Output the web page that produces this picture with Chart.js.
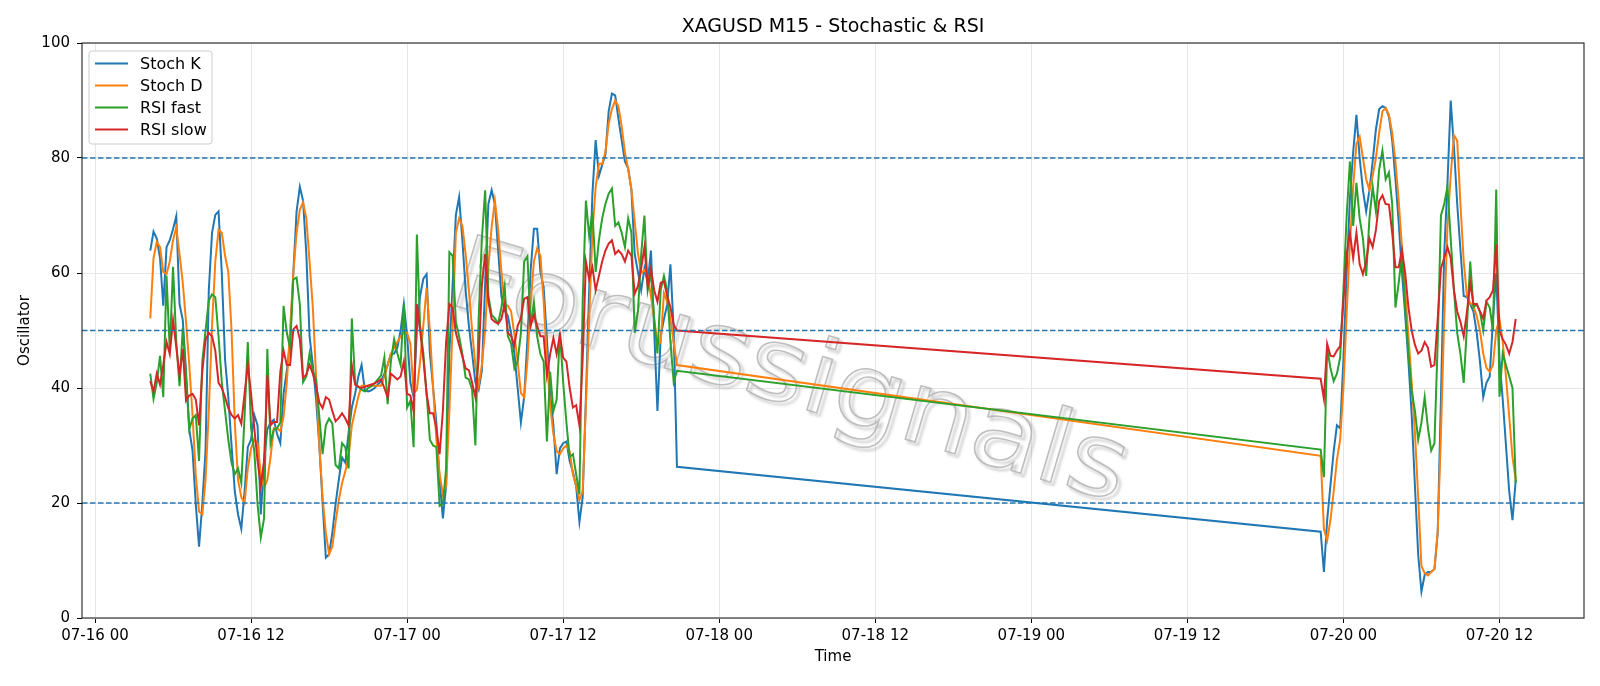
<!DOCTYPE html>
<html>
<head>
<meta charset="utf-8">
<script src="https://cdn.jsdelivr.net/npm/chart.js@4.4.1/dist/chart.umd.min.js"></script>
<style>
  html, body { margin: 0; padding: 0; background: #fff; }
  #wrap { width: 1600px; height: 686px; }
</style>
</head>
<body>
<div id="wrap"><canvas id="osc" width="1600" height="686"></canvas></div>
<script>
// XAGUSD M15 - Stochastic & RSI (15 min bars, hours counted from 07-16 00:00)

const seg1Start = 4.25;   // 07-16 04:15
const seg1Count = 163;    // up to 07-17 20:45
const seg2Start = 94.25;  // 07-19 22:15
const seg2Count = 61;     // up to 07-20 13:15
const step = 0.25;

const tickHours = [0, 12, 24, 36, 48, 60, 72, 84, 96, 108];
const tickLabels = ['07-16 00', '07-16 12', '07-17 00', '07-17 12', '07-18 00',
                    '07-18 12', '07-19 00', '07-19 12', '07-20 00', '07-20 12'];
const yTicks = [0, 20, 40, 60, 80, 100];
const levels = [20, 50, 80];

const stochK = [
  63.9, 67.2, 66.0, 62.6, 54.3, 64.5, 65.7, 67.6, 69.9, 54.6,
  51.8, 42.8, 32.8, 29.1, 19.8, 12.4, 19.8, 29.1, 57.0, 67.0,
  70.1, 70.7, 60.0, 45.0, 38.4, 30.0, 22.0, 18.0, 15.5, 22.0,
  29.7, 31.0, 35.3, 33.5, 18.0, 27.3, 32.8, 34.0, 34.5, 32.0,
  30.4, 39.0, 43.0, 48.0, 60.0, 70.7, 75.0, 72.6, 63.3, 49.0,
  44.0, 38.0, 30.0, 20.0, 10.5, 11.1, 14.8, 19.8, 24.1, 27.9,
  27.0, 32.2, 36.6, 39.0, 42.0, 44.0, 39.6, 39.4, 39.6, 40.0,
  40.6, 41.2, 42.5, 44.0, 45.9, 46.0, 47.0, 50.0, 54.6, 49.0,
  41.0, 38.4, 50.0, 56.0, 59.0, 59.8, 46.0, 40.0, 34.0, 24.0,
  17.3, 23.0, 46.0, 58.0, 70.1, 73.2, 65.7, 57.0, 50.8, 46.0,
  41.0, 39.7, 43.0, 58.0, 72.0, 74.4, 72.0, 64.0, 56.0, 53.5,
  52.5, 49.5, 46.0, 40.0, 34.0, 38.4, 48.4, 60.5, 67.7, 67.7,
  60.2, 57.5, 48.5, 39.0, 33.5, 25.0, 29.5, 30.4, 30.7, 27.3,
  25.4, 22.9, 16.7, 21.0, 38.4, 57.0, 73.8, 83.1, 76.9, 78.8,
  80.6, 88.1, 91.2, 90.9, 86.8, 83.1, 79.4, 78.2, 74.4, 63.3,
  60.2, 57.0, 60.8, 58.3, 63.9, 50.0, 36.0, 49.0, 52.0, 54.5,
  61.5, 50.0, 26.3,
  // after the weekend
  15.0, 8.0, 17.0, 23.0, 29.0, 33.5, 33.0, 45.0, 60.0, 73.0,
  81.0, 87.5, 80.0, 74.4, 70.7, 74.4, 79.4, 85.0, 88.5, 89.0,
  88.7, 87.2, 83.1, 76.3, 68.8, 60.2, 52.7, 44.6, 35.3, 22.9,
  11.0, 4.6, 7.5, 8.0, 8.0, 8.5, 14.8, 38.4, 63.3, 75.7,
  90.0, 81.9, 72.0, 64.0, 56.0, 55.8, 54.6, 53.3, 49.6, 44.6,
  38.4, 40.9, 42.0, 52.0, 60.0, 45.0, 38.0, 30.0, 22.0, 17.0,
  24.0
];

const stochD = [
  52.1, 62.6, 65.4, 64.5, 60.2, 59.8, 62.0, 65.7, 67.9, 63.3,
  58.3, 51.5, 44.0, 35.3, 24.8, 18.5, 18.0, 24.0, 36.0, 50.8,
  62.0, 67.5, 67.0, 63.0, 60.2, 50.0, 34.0, 24.0, 21.0, 20.0,
  26.0, 29.5, 31.0, 30.4, 25.0, 22.6, 24.0, 28.0, 33.0, 33.0,
  32.5, 35.0, 41.0, 50.0, 60.0, 67.0, 71.0, 72.3, 69.5, 62.0,
  54.0, 42.0, 30.0, 21.0, 14.8, 11.1, 12.4, 16.7, 20.5, 23.5,
  25.5, 28.0, 33.5, 36.0, 38.5, 40.4, 40.4, 40.4, 40.4, 40.4,
  40.4, 40.4, 42.0, 44.0, 45.9, 47.0, 48.0, 49.0, 49.6, 49.6,
  47.7, 39.1, 39.7, 44.6, 51.0, 57.4, 50.0, 40.0, 31.0, 25.0,
  21.5, 23.0, 36.0, 50.8, 67.0, 69.5, 68.2, 63.3, 57.0, 50.0,
  44.0, 40.5, 44.0, 50.0, 61.0, 68.0, 72.6, 67.6, 60.2, 54.6,
  54.3, 53.3, 49.3, 44.6, 39.1, 38.4, 44.6, 54.6, 62.0, 64.3,
  63.0, 55.0, 45.0, 37.0, 32.0, 29.0, 28.5, 29.5, 30.0, 29.0,
  25.0, 23.0, 20.5, 22.0, 37.0, 52.0, 67.0, 75.0, 79.0, 79.0,
  81.0, 86.0, 88.5, 90.0, 89.0, 85.5, 81.0, 78.0, 74.5, 69.0,
  63.5, 60.0, 60.5, 59.5, 56.0, 52.0, 47.5, 48.0, 56.5, 55.0,
  52.0, 48.0, 44.0,
  // after the weekend
  28.2, 15.5, 13.5, 17.0, 22.0, 27.5, 31.0, 40.0, 53.0, 65.0,
  75.0, 82.5, 83.7, 80.0, 76.3, 74.4, 76.9, 80.0, 84.4, 88.1,
  88.7, 87.5, 84.4, 79.4, 72.6, 64.5, 57.0, 49.0, 40.9, 32.2,
  21.0, 9.0, 7.8, 7.4, 8.0, 8.5, 15.0, 32.0, 52.0, 68.0,
  77.0, 84.0, 83.0, 72.0, 62.0, 56.0, 54.8, 54.2, 52.5, 50.0,
  46.0, 43.5, 42.8, 44.0, 50.0, 52.0, 48.0, 42.0, 35.0, 28.0,
  24.0
];

const rsiFast = [
  42.5, 38.1, 40.9, 45.6, 38.4, 59.5, 46.5, 61.1, 48.0, 40.3,
  50.5, 42.0, 32.8, 34.7, 35.3, 27.3, 44.6, 50.0, 55.2, 56.3,
  55.8, 49.0, 41.0, 36.0, 31.0, 27.0, 25.0, 26.0, 23.5, 35.0,
  48.0, 33.0, 29.0, 19.8, 14.0, 17.3, 46.8, 30.4, 32.8, 33.0,
  34.0, 54.3, 49.6, 47.0, 58.9, 59.2, 54.6, 41.0, 42.0, 46.0,
  43.0, 41.5, 35.0, 28.5, 33.5, 34.7, 33.8, 26.6, 26.0, 30.4,
  29.7, 26.0, 52.1, 40.9, 40.2, 39.7, 39.4, 40.0, 40.3, 40.8,
  41.5, 42.2, 45.3, 37.2, 44.6, 48.5, 46.0, 44.0, 54.6, 36.6,
  37.8, 29.7, 66.7, 50.8, 46.0, 39.0, 31.0, 30.0, 29.7, 19.5,
  19.8, 26.0, 63.6, 63.0, 51.5, 49.0, 45.9, 41.8, 41.5, 39.7,
  30.0, 52.0, 66.0, 74.4, 56.0, 52.7, 52.1, 51.2, 54.0, 57.7,
  49.0, 47.7, 43.4, 44.6, 49.6, 62.0, 62.9, 50.8, 54.9, 49.0,
  45.9, 44.6, 30.7, 42.8, 36.0, 38.0, 49.6, 41.0, 34.0, 28.0,
  28.5, 25.0, 21.5, 55.0, 72.6, 66.4, 70.7, 60.2, 65.7, 69.5,
  72.0, 73.8, 74.7, 68.2, 68.8, 67.0, 64.5, 69.5, 67.0, 49.6,
  53.3, 63.3, 70.0, 57.0, 60.0, 52.0, 46.0, 57.0, 59.5, 57.0,
  48.0, 41.0, 43.0,
  // after the weekend
  29.3, 24.5, 47.0, 43.5, 41.2, 42.5, 45.3, 57.0, 70.0, 79.4,
  68.2, 75.7, 69.5, 66.0, 59.5, 69.5, 75.0, 70.7, 78.0, 81.3,
  76.3, 77.5, 72.0, 54.0, 58.3, 63.3, 54.0, 46.0, 39.5, 36.0,
  31.0, 34.0, 38.4, 33.0, 29.1, 30.4, 48.0, 70.0, 72.0, 75.0,
  66.0, 57.0, 49.6, 45.9, 40.9, 50.8, 62.0, 54.0, 54.6, 53.3,
  50.0, 55.0, 54.0, 50.0, 74.5, 38.5, 46.0, 44.0, 42.0, 40.0,
  23.5
];

const rsiSlow = [
  41.2, 39.4, 42.5, 40.6, 44.0, 48.0, 45.9, 51.8, 47.1, 42.2,
  46.8, 37.8, 38.7, 39.0, 38.0, 33.5, 42.8, 48.4, 49.6, 49.0,
  46.5, 40.9, 40.0, 38.4, 36.5, 35.3, 34.7, 35.3, 33.8, 39.0,
  44.0, 39.0, 33.0, 27.3, 23.0, 27.3, 42.2, 33.5, 34.1, 34.1,
  42.8, 46.5, 44.0, 44.0, 50.2, 50.8, 48.5, 41.8, 42.3, 44.0,
  42.5, 40.3, 37.5, 36.5, 38.4, 38.0, 36.0, 34.2, 34.8, 35.6,
  34.7, 33.5, 44.0, 40.6, 40.2, 40.0, 40.2, 40.4, 40.6, 40.8,
  41.1, 41.5, 40.0, 38.4, 42.5, 42.0, 41.5, 42.0, 44.6, 39.0,
  38.7, 36.0, 54.6, 50.0, 45.0, 39.0, 35.6, 35.6, 33.0, 28.5,
  36.0, 48.0, 54.6, 54.0, 49.6, 47.5, 45.5, 43.4, 43.1, 40.9,
  38.4, 45.0, 58.0, 63.3, 55.0, 52.0, 51.5, 51.2, 52.0, 54.6,
  49.6, 49.0, 47.4, 50.8, 52.1, 55.5, 55.8, 50.8, 52.7, 50.8,
  49.0, 49.0, 42.2, 45.9, 48.7, 45.9, 49.3, 45.3, 44.6, 40.0,
  36.6, 37.0, 33.5, 45.0, 62.0, 58.9, 61.0, 57.0, 59.5, 62.0,
  63.9, 65.1, 65.7, 63.3, 63.9, 63.3, 62.0, 63.9, 63.0, 56.4,
  57.7, 60.8, 64.5, 57.7, 60.8, 57.0, 55.0, 58.3, 58.5, 56.0,
  54.0, 51.0, 50.0,
  // after the weekend
  41.6, 38.1, 47.7, 45.6, 45.5, 46.5, 47.3, 55.0, 63.3, 67.0,
  62.6, 67.0, 61.5, 59.8, 62.0, 66.0, 64.5, 67.5, 72.5, 73.5,
  72.0, 71.9, 67.0, 61.0, 61.0, 64.0, 60.0, 54.0, 50.0, 47.5,
  46.0, 46.5, 48.0, 47.0, 43.7, 44.0, 52.0, 60.8, 62.6, 64.5,
  62.6, 57.0, 53.3, 51.5, 49.0, 53.3, 58.3, 54.6, 54.6, 53.3,
  52.1, 55.2, 55.8, 57.0, 65.0, 50.0, 48.5, 47.5, 46.0, 48.0,
  52.0
];

const times = [];
for (let i = 0; i < seg1Count; i++) times.push(seg1Start + i * step);
for (let i = 0; i < seg2Count; i++) times.push(seg2Start + i * step);

const series = [
  { label: 'Stoch K',  values: stochK,  color: '#1f77b4' },
  { label: 'Stoch D',  values: stochD,  color: '#ff7f0e' },
  { label: 'RSI fast', values: rsiFast, color: '#2ca02c' },
  { label: 'RSI slow', values: rsiSlow, color: '#d62728' }
];

series.forEach(s => {
  if (s.values.length !== times.length) {
    throw new Error(s.label + ' has ' + s.values.length + ' values, expected ' + times.length);
  }
});

const FONT = "'DejaVu Sans', sans-serif";

// titles, frame, legend, level lines and watermark
const decor = {
  id: 'decor',
  beforeDatasetsDraw(chart) {
    const ctx = chart.ctx;
    ctx.save();
    ctx.translate(789, 377);
    ctx.rotate(16.5 * Math.PI / 180);
    ctx.font = "102px " + FONT;
    const w = ctx.measureText('Forussignals').width;
    ctx.scale(700 / w, 1);
    ctx.textAlign = 'center';
    ctx.textBaseline = 'middle';
    ctx.lineWidth = 1.5;
    ctx.shadowColor = 'rgba(0, 0, 0, 0.35)';
    ctx.shadowBlur = 3;
    ctx.shadowOffsetX = 3;
    ctx.shadowOffsetY = 3;
    ctx.strokeStyle = 'rgba(175, 175, 175, 0.8)';
    ctx.strokeText('Forussignals', 0, 0);
    ctx.restore();
  },
  afterDatasetsDraw(chart) {
    const ctx = chart.ctx;
    const area = chart.chartArea;
    const y = chart.scales.y;
    ctx.save();
    ctx.strokeStyle = '#1f77b4';
    ctx.lineWidth = 1.3;
    ctx.setLineDash([5.5, 2.5]);
    levels.forEach(v => {
      const py = y.getPixelForValue(v);
      ctx.beginPath();
      ctx.moveTo(area.left, py);
      ctx.lineTo(area.right, py);
      ctx.stroke();
    });
    ctx.restore();
  },
  afterDraw(chart) {
    const ctx = chart.ctx;
    const area = chart.chartArea;
    const cx = (area.left + area.right) / 2;
    ctx.save();

    ctx.strokeStyle = '#222';
    ctx.lineWidth = 1.1;
    ctx.strokeRect(area.left, area.top, area.right - area.left, area.bottom - area.top);

    ctx.fillStyle = '#000';
    ctx.textAlign = 'center';
    ctx.textBaseline = 'middle';
    ctx.font = "19px " + FONT;
    ctx.fillText('XAGUSD M15 - Stochastic & RSI', cx, 27.5);

    ctx.font = "15px " + FONT;
    ctx.fillText('Time', cx, 657);
    ctx.save();
    ctx.translate(25.5, (area.top + area.bottom) / 2);
    ctx.rotate(-Math.PI / 2);
    ctx.fillText('Oscillator', 0, 0);
    ctx.restore();

    // legend, upper left
    const lx = area.left + 7, ly = area.top + 8, lw = 123, lh = 93;
    ctx.beginPath();
    ctx.roundRect(lx, ly, lw, lh, 3);
    ctx.fillStyle = 'rgba(255,255,255,0.8)';
    ctx.fill();
    ctx.strokeStyle = '#cccccc';
    ctx.lineWidth = 1;
    ctx.stroke();
    ctx.textAlign = 'left';
    ctx.font = "16px " + FONT;
    series.forEach((s, i) => {
      const ry = ly + 12.5 + i * 22;
      ctx.strokeStyle = s.color;
      ctx.lineWidth = 2;
      ctx.beginPath();
      ctx.moveTo(lx + 6, ry);
      ctx.lineTo(lx + 39, ry);
      ctx.stroke();
      ctx.fillStyle = '#000';
      ctx.fillText(s.label, lx + 51, ry + 1);
    });
    ctx.restore();
  }
};

new Chart(document.getElementById('osc').getContext('2d'), {
  type: 'line',
  data: {
    datasets: series.map((s, i) => ({
      label: s.label,
      data: s.values.map((v, j) => ({ x: times[j], y: v })),
      borderColor: s.color,
      backgroundColor: s.color,
      borderWidth: 2,
      pointRadius: 0,
      fill: false,
      tension: 0,
      order: series.length - i
    }))
  },
  options: {
    responsive: false,
    animation: false,
    layout: { padding: { top: 43, right: 16, left: 0, bottom: 0 } },
    plugins: {
      legend: { display: false },
      title: { display: false },
      tooltip: { enabled: false }
    },
    scales: {
      x: {
        type: 'linear',
        min: -1.0,
        max: 114.5,
        afterBuildTicks: axis => { axis.ticks = tickHours.map(v => ({ value: v })); },
        afterFit: axis => { axis.height = 68; },
        ticks: {
          callback: v => tickLabels[tickHours.indexOf(v)],
          autoSkip: false,
          maxRotation: 0,
          padding: 4,
          color: '#000',
          font: { family: FONT, size: 15 }
        },
        grid: { color: '#e6e6e6', lineWidth: 1, tickColor: '#000', tickLength: 5 },
        border: { display: false }
      },
      y: {
        min: 0,
        max: 100,
        afterBuildTicks: axis => { axis.ticks = yTicks.map(v => ({ value: v })); },
        afterFit: axis => { axis.width = 82; },
        ticks: {
          padding: 7,
          color: '#000',
          font: { family: FONT, size: 15 }
        },
        grid: { color: '#e6e6e6', lineWidth: 1, tickColor: '#000', tickLength: 5 },
        border: { display: false }
      }
    }
  },
  plugins: [decor]
});
</script>
</body>
</html>
